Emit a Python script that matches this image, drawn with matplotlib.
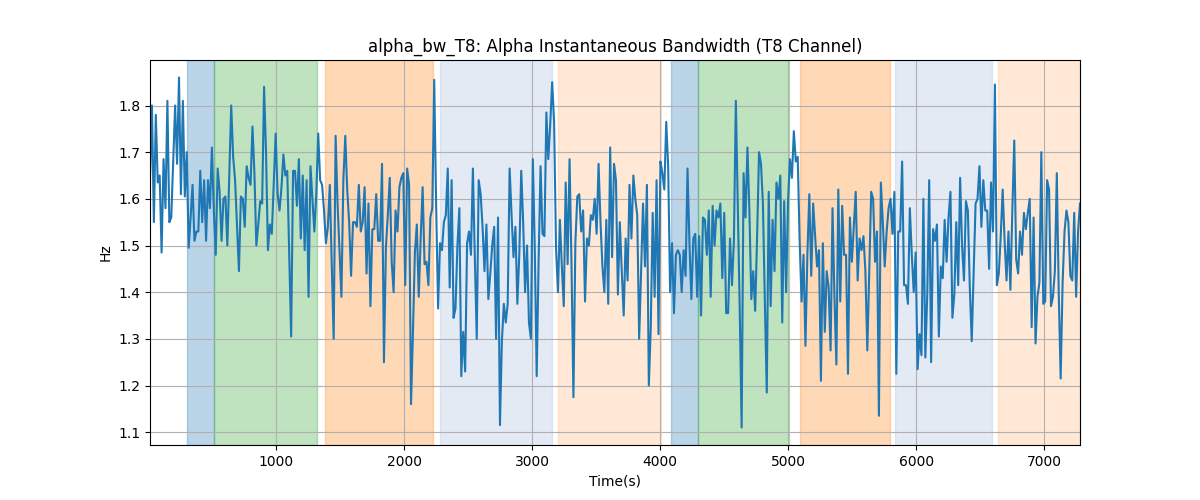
import numpy as np
import matplotlib
matplotlib.use("Agg")
import matplotlib.pyplot as plt

# time axis (s)
t_start = 16
t_end = 7280

# alpha bandwidth values (Hz)
seg1 = [1.645, 1.80, 1.55, 1.78, 1.635, 1.65, 1.485, 1.685, 1.58, 1.81, 1.55, 1.56, 1.68, 1.80, 1.675,
        1.86, 1.61, 1.81, 1.605, 1.70, 1.495, 1.56, 1.63, 1.51, 1.53, 1.53, 1.66, 1.55, 1.64, 1.51,
        1.64, 1.58, 1.71, 1.575, 1.48, 1.665, 1.615, 1.51, 1.60, 1.605, 1.50, 1.65, 1.80, 1.69, 1.64,
        1.54, 1.445, 1.605, 1.60, 1.54, 1.67, 1.645, 1.63, 1.755, 1.655, 1.50, 1.545, 1.595, 1.59, 1.84]
seg2 = [1.70, 1.49, 1.545, 1.525, 1.63, 1.74, 1.61, 1.575, 1.625, 1.695, 1.65, 1.66, 1.48, 1.305, 1.66,
        1.66, 1.585, 1.685, 1.515, 1.65, 1.49, 1.64, 1.39, 1.67, 1.60, 1.53, 1.61, 1.74, 1.64, 1.63,
        1.575, 1.505, 1.54, 1.63, 1.46, 1.30, 1.735, 1.59, 1.49, 1.39, 1.64, 1.735, 1.62, 1.55, 1.435,
        1.55, 1.55, 1.54, 1.63, 1.53, 1.55, 1.625, 1.44, 1.59, 1.37, 1.535, 1.535, 1.61, 1.51, 1.51, 1.675]
seg3 = [1.25, 1.495, 1.565, 1.645, 1.465, 1.40, 1.575, 1.53, 1.625, 1.645, 1.655, 1.415, 1.665, 1.63, 1.16,
        1.315, 1.485, 1.545, 1.39, 1.515, 1.625, 1.46, 1.465, 1.415, 1.56, 1.58, 1.855, 1.585, 1.365, 1.505,
        1.49, 1.55, 1.565, 1.665, 1.41, 1.64, 1.345, 1.365, 1.50, 1.58, 1.22, 1.315, 1.23, 1.505, 1.53,
        1.48, 1.665, 1.475, 1.30, 1.64, 1.61, 1.54, 1.445, 1.545, 1.385, 1.44, 1.50, 1.54, 1.30, 1.56]
seg4 = [1.115, 1.295, 1.375, 1.335, 1.375, 1.665, 1.565, 1.475, 1.54, 1.375, 1.48, 1.66, 1.55, 1.40, 1.50,
        1.335, 1.30, 1.685, 1.495, 1.22, 1.47, 1.67, 1.525, 1.52, 1.785, 1.685, 1.76, 1.85, 1.765, 1.495,
        1.40, 1.555, 1.455, 1.37, 1.635, 1.46, 1.685, 1.46, 1.175, 1.505, 1.605, 1.61, 1.53, 1.575, 1.38,
        1.515, 1.50, 1.565, 1.555, 1.60, 1.525, 1.675, 1.55, 1.455, 1.40, 1.555, 1.375, 1.71, 1.475, 1.675, 1.64]
seg5 = [1.395, 1.55, 1.445, 1.35, 1.515, 1.425, 1.63, 1.515, 1.65, 1.60, 1.565, 1.30, 1.445, 1.59, 1.455,
        1.63, 1.20, 1.325, 1.57, 1.39, 1.64, 1.31, 1.68, 1.655, 1.62, 1.765, 1.67, 1.40, 1.505, 1.355,
        1.48, 1.49, 1.48, 1.40, 1.49, 1.435, 1.665, 1.505, 1.385, 1.515, 1.525, 1.39, 1.52, 1.35, 1.56,
        1.555, 1.48, 1.575, 1.39, 1.585, 1.50, 1.575, 1.56, 1.59, 1.43, 1.57, 1.355, 1.355, 1.515, 1.415]
seg6 = [1.51, 1.81, 1.585, 1.365, 1.11, 1.655, 1.56, 1.71, 1.575, 1.385, 1.445, 1.36, 1.52, 1.70, 1.675,
        1.59, 1.38, 1.185, 1.615, 1.37, 1.555, 1.445, 1.635, 1.60, 1.65, 1.335, 1.595, 1.40, 1.595, 1.685,
        1.645, 1.745, 1.68, 1.69, 1.51, 1.38, 1.48, 1.285, 1.48, 1.61, 1.435, 1.59, 1.52, 1.455, 1.49,
        1.21, 1.505, 1.315, 1.445, 1.41, 1.275, 1.58, 1.39, 1.245, 1.62, 1.38, 1.585, 1.48, 1.48, 1.225, 1.56]
seg7 = [1.465, 1.54, 1.615, 1.425, 1.515, 1.49, 1.52, 1.445, 1.275, 1.445, 1.615, 1.60, 1.465, 1.53, 1.135,
        1.635, 1.55, 1.455, 1.53, 1.58, 1.60, 1.525, 1.615, 1.225, 1.53, 1.53, 1.68, 1.415, 1.415, 1.375,
        1.58, 1.48, 1.40, 1.485, 1.235, 1.31, 1.265, 1.60, 1.26, 1.395, 1.64, 1.25, 1.535, 1.51, 1.545,
        1.305, 1.455, 1.43, 1.555, 1.465, 1.56, 1.615, 1.345, 1.395, 1.55, 1.415, 1.645, 1.50, 1.425, 1.595, 1.575]
seg8 = [1.41, 1.295, 1.44, 1.59, 1.60, 1.67, 1.54, 1.64, 1.575, 1.575, 1.45, 1.635, 1.53, 1.845, 1.415,
        1.44, 1.52, 1.62, 1.51, 1.425, 1.53, 1.405, 1.575, 1.725, 1.47, 1.44, 1.53, 1.48, 1.57, 1.535,
        1.57, 1.60, 1.325, 1.56, 1.29, 1.39, 1.42, 1.70, 1.375, 1.38, 1.64, 1.62, 1.37, 1.39, 1.445,
        1.655, 1.40, 1.215, 1.42, 1.53, 1.575, 1.55, 1.435, 1.425, 1.57, 1.39, 1.53, 1.59]

values = np.array(seg1 + seg2 + seg3 + seg4 + seg5 + seg6 + seg7 + seg8)
times = np.linspace(t_start, t_end, len(values))

# shaded segments: (start, end, colour, alpha)
span_starts = [305, 513, 1383, 2281, 3203, 4086, 4299, 5094, 5833, 6641]
span_ends = [513, 1318, 2224, 3153, 4005, 4299, 5008, 5794, 6591, 7281]
span_colors = ['tab:blue', 'tab:green', 'tab:orange', 'lightsteelblue', 'tab:orange',
               'tab:blue', 'tab:green', 'tab:orange', 'lightsteelblue', 'tab:orange']
span_alphas = [0.3, 0.3, 0.3, 0.35, 0.17, 0.3, 0.3, 0.3, 0.35, 0.17]

fig, ax = plt.subplots(figsize=(12, 5), dpi=100)

for s, e, c, a in zip(span_starts, span_ends, span_colors, span_alphas):
    ax.axvspan(s, e, color=c, alpha=a)

ax.plot(times, values, color='tab:blue', lw=1.5)
ax.set_xlim(times[0], times[-1])
ax.grid(True)
ax.set_title('alpha_bw_T8: Alpha Instantaneous Bandwidth (T8 Channel)')
ax.set_xlabel('Time(s)')
ax.set_ylabel('Hz')

fig.savefig('out.png')
